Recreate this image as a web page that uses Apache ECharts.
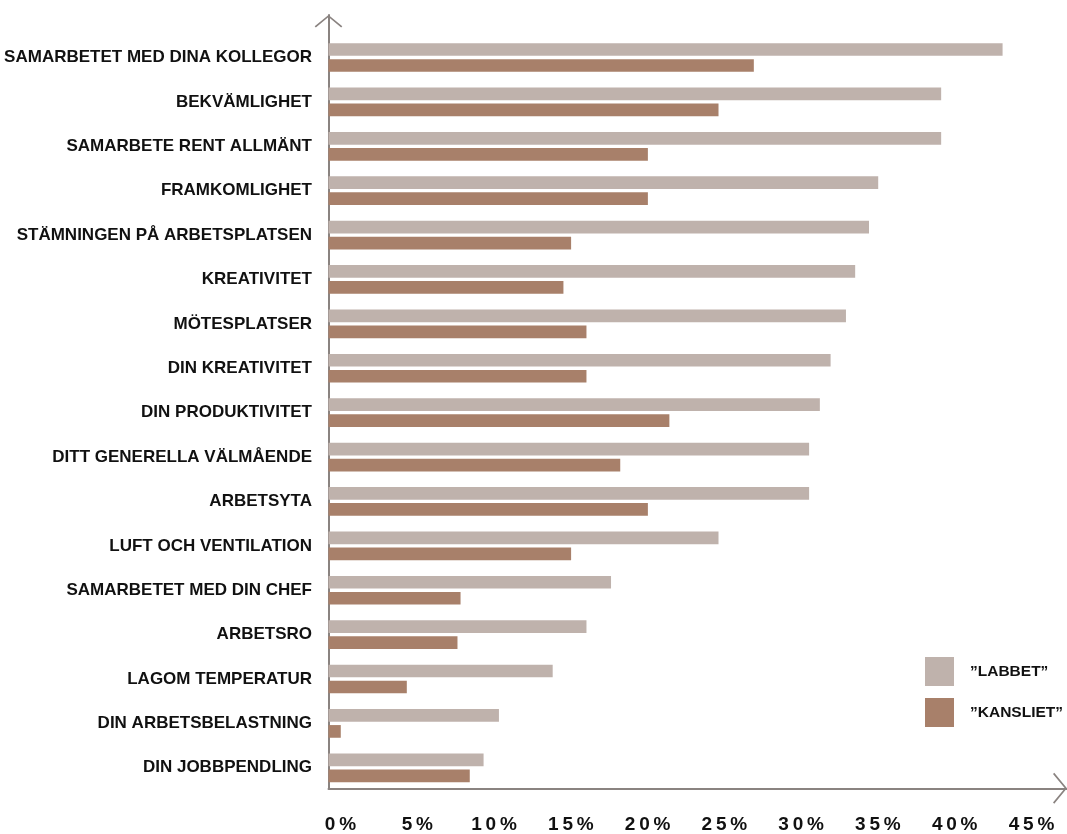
<!DOCTYPE html>
<html>
<head>
<meta charset="utf-8">
<script src="https://cdn.jsdelivr.net/npm/echarts@6/dist/echarts.min.js"></script>
<style>
html,body{margin:0;padding:0;background:#fff;}
#chart{width:1067px;height:834px;}
</style>
</head>
<body>
<div id="chart"></div>
<script>
const categories = ['SAMARBETET MED DINA KOLLEGOR','BEKVÄMLIGHET','SAMARBETE RENT ALLMÄNT','FRAMKOMLIGHET','STÄMNINGEN PÅ ARBETSPLATSEN','KREATIVITET','MÖTESPLATSER','DIN KREATIVITET','DIN PRODUKTIVITET','DITT GENERELLA VÄLMÅENDE','ARBETSYTA','LUFT OCH VENTILATION','SAMARBETET MED DIN CHEF','ARBETSRO','LAGOM TEMPERATUR','DIN ARBETSBELASTNING','DIN JOBBPENDLING'];
const labbet = [43.9, 39.9, 39.9, 35.8, 35.2, 34.3, 33.7, 32.7, 32.0, 31.3, 31.3, 25.4, 18.4, 16.8, 14.6, 11.1, 10.1];
const kansliet = [27.7, 25.4, 20.8, 20.8, 15.8, 15.3, 16.8, 16.8, 22.2, 19.0, 20.8, 15.8, 8.6, 8.4, 5.1, 0.8, 9.2];
const tickLabels = ['0%','5%','10%','15%','20%','25%','30%','35%','40%','45%'];
const seriesNames = ['\u201dLABBET\u201d', '\u201dKANSLIET\u201d'];

const AXIS_MAX = 47.9;
const FONT = 'Liberation Sans, Arial, Helvetica, sans-serif';
const axisColor = '#8a8380';
const chevron = 'path://M17,0 L34,14 L32.6,15.4 L17,2.4 L1.4,15.4 L0,14 Z';

const chart = echarts.init(document.getElementById('chart'), null, {renderer: 'canvas'});
chart.setOption({
  animation: false,
  backgroundColor: '#ffffff',
  legend: {
    orient: 'vertical',
    left: 925,
    top: 657,
    padding: 0,
    itemWidth: 29,
    itemHeight: 29,
    itemGap: 12,
    icon: 'rect',
    data: seriesNames,
    textStyle: {fontFamily: FONT, fontSize: 15.5, fontWeight: 'bold', color: '#111', padding: [0, 0, 0, 11]}
  },
  grid: [
    {left: 328.5, width: 738.6, top: 35.3, height: 755.5},
    {left: 328.5, width: 738.6, top: 15, bottom: 45.7}
  ],
  xAxis: [
    {
      type: 'value', gridIndex: 0, min: 0, max: AXIS_MAX, interval: 5,
      axisLine: {show: false}, axisTick: {show: false}, splitLine: {show: false},
      axisLabel: {
        margin: 25, fontFamily: FONT, fontSize: 19, fontWeight: 'bold', color: '#111',
        padding: [0, 0, 0, 24],
        formatter: function (v) {
          const i = Math.round(v / 5);
          if (Math.abs(v - i * 5) > 1e-6 || i >= tickLabels.length) return '';
          return tickLabels[i].split('').join('\u2009');
        }
      }
    },
    {
      type: 'value', gridIndex: 1, min: 0, max: AXIS_MAX,
      axisLine: {show: true, lineStyle: {color: axisColor, width: 2}, symbol: ['none', chevron], symbolSize: [35, 14], symbolOffset: [0, -7]},
      axisTick: {show: false}, splitLine: {show: false}, axisLabel: {show: false}
    }
  ],
  yAxis: [
    {
      type: 'category', gridIndex: 0, data: categories, inverse: true,
      axisLine: {show: false}, axisTick: {show: false}, splitLine: {show: false},
      axisLabel: {margin: 16.5, fontFamily: FONT, fontSize: 17, fontWeight: 'bold', color: '#111'}
    },
    {
      type: 'value', gridIndex: 1, min: 0, max: 1,
      axisLine: {show: true, lineStyle: {color: axisColor, width: 2}, symbol: ['none', chevron], symbolSize: [28, 12.5], symbolOffset: [0, -6.25]},
      axisTick: {show: false}, splitLine: {show: false}, axisLabel: {show: false}
    }
  ],
  series: [
    {name: seriesNames[0], type: 'bar', xAxisIndex: 0, yAxisIndex: 0, data: labbet, barWidth: 12.7, barGap: '26%', itemStyle: {color: '#bfb2ac'}},
    {name: seriesNames[1], type: 'bar', xAxisIndex: 0, yAxisIndex: 0, data: kansliet, barWidth: 12.7, barGap: '26%', itemStyle: {color: '#a8806a'}}
  ]
});
</script>
</body>
</html>
